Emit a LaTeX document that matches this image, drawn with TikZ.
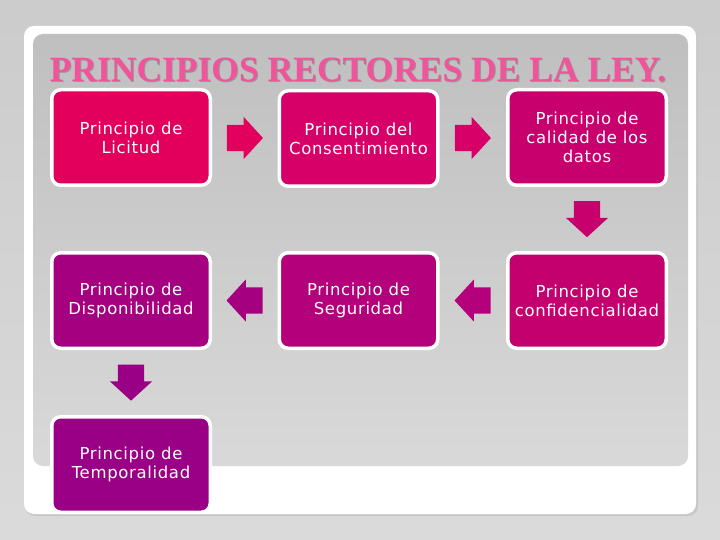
\documentclass[tikz,border=0pt]{standalone}
\usepackage{fontspec}
\usetikzlibrary{shapes.arrows,calc}
\newfontfamily\boxfont[LetterSpace=4]{DejaVu Sans}
\newfontfamily\titlefont{Liberation Serif}
\definecolor{pageGray}{HTML}{D4D4D4}
\definecolor{titlePink}{HTML}{F0559B}
\definecolor{colA}{HTML}{E2005C}
\definecolor{colB}{HTML}{D60068}
\definecolor{colC}{HTML}{C8006E}
\definecolor{colD}{HTML}{C4006F}
\definecolor{colE}{HTML}{B4007A}
\definecolor{colF}{HTML}{A4007F}
\definecolor{colG}{HTML}{9A0086}
\tikzset{
  principio/.style={rounded corners=9pt, draw=white, line width=3.5pt,
    minimum width=158.5pt, minimum height=95.5pt, text=white, align=center,
    font=\boxfont\fontsize{16.5}{19}\selectfont},
  flecha/.style={single arrow, draw=none, inner xsep=0pt, inner ysep=13pt,
    anchor=tail, single arrow head extend=8pt, single arrow tip angle=95,
    minimum height=36pt}
}
\begin{document}
\begin{tikzpicture}[x=1pt,y=-1pt]
\useasboundingbox (0,0) rectangle (720,540);
\shade[top color=pageGray!96!black, bottom color=pageGray!85!white] (0,0) rectangle (720,540);
% frame
\fill[black!22,rounded corners=10pt] (25,28) rectangle (698,516);
\fill[white,rounded corners=10pt] (24,26) rectangle (696,514);
\shade[rounded corners=10pt, top color=black!25, bottom color=black!15] (33,34) rectangle (688,466);
% title
\node[text=black!40, font=\titlefont\bfseries\fontsize{35.5}{35.5}\selectfont] at (359,71) {PRINCIPIOS RECTORES DE LA LEY.};
\node[text=titlePink, font=\titlefont\bfseries\fontsize{35.5}{35.5}\selectfont] (titulo) at (358,70) {PRINCIPIOS RECTORES DE LA LEY.};
% boxes
\node[principio, fill=colA] (licitud) at (131,137.5) {Principio de\\Licitud};
\node[principio, fill=colB] (consent) at (358.5,138.5) {Principio del\\Consentimiento};
\node[principio, fill=colC] (calidad) at (587,137.5) {Principio de\\calidad de los\\datos};
\node[principio, fill=colD] (confid) at (587,300.5) {Principio de\\confidencialidad};
\node[principio, fill=colE] (segur) at (358.5,300.5) {Principio de\\Seguridad};
\node[principio, fill=colF] (dispon) at (131,300.5) {Principio de\\Disponibilidad};
\node[principio, fill=colG] (tempor) at (131,464.5) {Principio de\\Temporalidad};
% block arrows
\node[flecha, fill=colA] (f1) at ($(licitud)!.5!(consent)+(-18,0)$) {};
\node[flecha, fill=colB] (f2) at ($(consent)!.5!(calidad)+(-18,0)$) {};
\node[flecha, fill=colC, rotate=-90] (f3) at ($(calidad)!.5!(confid)+(0,-18)$) {};
\node[flecha, fill=colE, rotate=180] (f4) at ($(confid)!.5!(segur)+(18,0)$) {};
\node[flecha, fill=colF, rotate=180] (f5) at ($(segur)!.5!(dispon)+(18,0)$) {};
\node[flecha, fill=colG, rotate=-90] (f6) at ($(dispon)!.5!(tempor)+(0,-18)$) {};
\end{tikzpicture}
\end{document}
